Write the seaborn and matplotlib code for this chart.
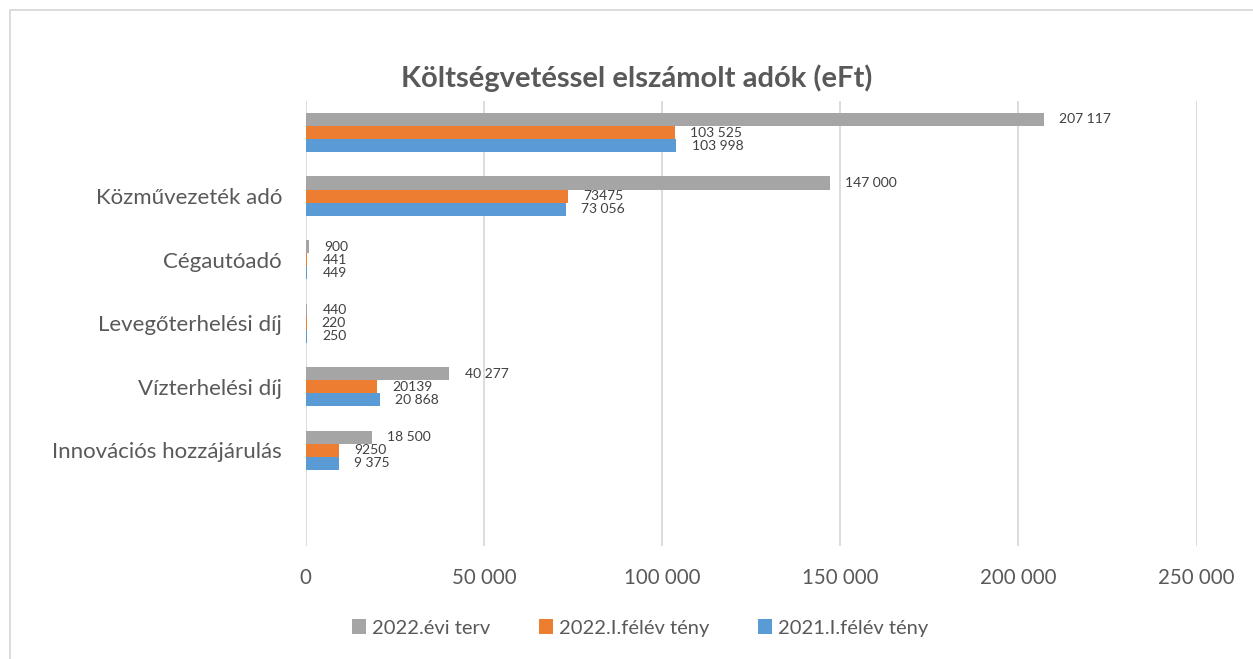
import matplotlib
matplotlib.use("Agg")
import matplotlib.pyplot as plt
from matplotlib.lines import Line2D
from matplotlib.ticker import FuncFormatter
import seaborn as sns
import pandas as pd

# ---------- DATA ----------
CATEGORIES = ["", "Közművezeték adó", "Cégautóadó", "Levegőterhelési díj",
              "Vízterhelési díj", "Innovációs hozzájárulás"]
SERIES = ["2022.évi terv", "2022.I.félév tény", "2021.I.félév tény"]
TERV_2022 = [207117, 147000, 900, 440, 40277, 18500]
TENY_2022 = [103525, 73475, 441, 220, 20139, 9250]
TENY_2021 = [103998, 73056, 449, 250, 20868, 9375]
LABELS_TERV_2022 = ["207 117", "147 000", "900", "440", "40 277", "18 500"]
LABELS_TENY_2022 = ["103 525", "73475", "441", "220", "20139", "9250"]
LABELS_TENY_2021 = ["103 998", "73 056", "449", "250", "20 868", "9 375"]
X_TICKS = [0, 50000, 100000, 150000, 200000, 250000]

COLORS = ["#A5A5A5", "#ED7D31", "#5B9BD5"]
TEXT = "#595959"

rows = []
for s, vals in zip(SERIES, [TERV_2022, TENY_2022, TENY_2021]):
    for c, v in zip(CATEGORIES, vals):
        rows.append({"cat": c, "series": s, "value": v})
df = pd.DataFrame(rows)

sns.set_theme(style="white")
plt.rcParams["font.family"] = ["Lato", "DejaVu Sans"]

fig = plt.figure(figsize=(12.53, 6.59), dpi=100)
ax = fig.add_axes([0.244, 0.172, 0.711, 0.675])

sns.barplot(data=df, y="cat", x="value", hue="series", order=CATEGORIES,
            hue_order=SERIES, palette=COLORS, orient="h", width=0.62,
            saturation=1, ax=ax, edgecolor="none")

for cont, labs in zip(ax.containers, [LABELS_TERV_2022, LABELS_TENY_2022, LABELS_TENY_2021]):
    ax.bar_label(cont, labels=labs, padding=11, fontsize=10, color="#404040")

ax.set_xlim(0, 250000)
ax.set_ylim(6.5, -0.5)
ax.set_xticks(X_TICKS)
ax.xaxis.set_major_formatter(FuncFormatter(lambda v, p: f"{int(v):,}".replace(",", " ")))
ax.grid(axis="x", color="#D9D9D9", linewidth=1.3)
ax.set_axisbelow(True)
for sp in ax.spines.values():
    sp.set_visible(False)
ax.tick_params(axis="x", length=0, pad=16, labelsize=14.8, labelcolor=TEXT)
ax.tick_params(axis="y", length=0, pad=17, labelsize=16, labelcolor=TEXT)
ax.set_xlabel("")
ax.set_ylabel("")

ax.legend(loc="center", bbox_to_anchor=(0.511, 0.047), bbox_transform=fig.transFigure,
          ncol=3, frameon=False, fontsize=14.5, labelcolor=TEXT, handlelength=0.7,
          handleheight=0.7, handletextpad=0.3, columnspacing=2.4)

fig.text(0.508, 0.882, "Költségvetéssel elszámolt adók (eFt)", ha="center", va="center",
         fontsize=21, fontweight="bold", color=TEXT)

# chart frame
fig.add_artist(Line2D([0.008, 1.0], [0.985, 0.985], color="#D9D9D9", lw=1.3))
fig.add_artist(Line2D([0.008, 0.008], [0.0, 0.985], color="#D9D9D9", lw=1.3))

fig.savefig("out.png", dpi=100, facecolor="white")
